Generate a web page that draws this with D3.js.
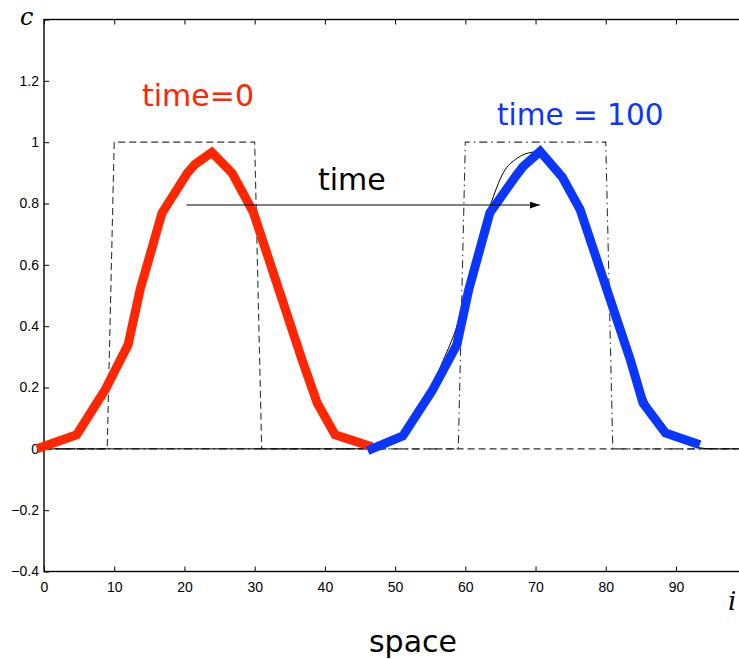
<!DOCTYPE html>
<html>
<head>
<meta charset="utf-8">
<script src="https://cdn.jsdelivr.net/npm/d3@7"></script>
<style>
  body { margin: 0; background: #fff; }
  svg { display: block; }
</style>
</head>
<body>
<div id="chart"></div>
<script>
// numerical solution at time = 0 (red)
const redX = [-1, 4.66, 8.69, 11.97, 13.7, 16.8, 20.4, 21.5, 23.9, 26.8, 29.8, 36.75, 38.9, 41.45, 46.7];
const redY = [0, 0.046, 0.192, 0.339, 0.52, 0.769, 0.899, 0.928, 0.967, 0.899, 0.772, 0.29, 0.15, 0.046, 0.007];

// numerical solution at time = 100 (blue)
const blueX = [46.1, 51.1, 55.3, 58.8, 60.5, 63.5, 67.2, 68.2, 70.65, 73.8, 76.35, 83.5, 85.3, 88.5, 93.4];
const blueY = [-0.006, 0.042, 0.19, 0.34, 0.52, 0.77, 0.89, 0.92, 0.97, 0.886, 0.78, 0.29, 0.15, 0.052, 0.013];

// exact solution (thin black)
const exactX = [0, 44, 48, 51, 54, 56.7, 59.3, 60.4, 62, 63.5, 65.4, 67.4, 69.7, 70.8, 72.5, 75, 77, 80, 83, 86, 89, 92, 95, 100];
const exactY = [0, 0, 0.01, 0.04, 0.14, 0.28, 0.44, 0.55, 0.68, 0.79, 0.9, 0.948, 0.968, 0.97, 0.935, 0.85, 0.75, 0.55, 0.33, 0.15, 0.05, 0.012, 0, 0];

// initial square pulse (dashed) and shifted pulse (dash-dot)
const squareX = [0, 9, 10, 30, 31, 100];
const squareY = [0, 0, 1, 1, 0, 0];
const square2X = [0, 59, 60, 80, 81, 100];
const square2Y = [0, 0, 1, 1, 0, 0];

const xTicks = [0, 10, 20, 30, 40, 50, 60, 70, 80, 90, 100];
const yTicks = [-0.4, -0.2, 0, 0.2, 0.4, 0.6, 0.8, 1, 1.2, 1.4];
const yLabelled = [-0.4, -0.2, 0, 0.2, 0.4, 0.6, 0.8, 1, 1.2];

const arrowX = [20.3, 70.6];
const arrowY = 0.8;

const width = 739, height = 659;
const margin = { top: 19.5, left: 44, right: 739 - 746.2, bottom: 659 - 571.5 };

const svg = d3.select("#chart").append("svg")
  .attr("width", width)
  .attr("height", height);

const x = d3.scaleLinear().domain([0, 100]).range([margin.left, width - margin.right]);
const y = d3.scaleLinear().domain([-0.4, 1.4]).range([height - margin.bottom, margin.top]);

const tickFont = "'Liberation Sans', Arial, sans-serif";

// bottom axis with inward ticks
const gx = svg.append("g")
  .attr("transform", `translate(0,${y(-0.4)})`)
  .call(d3.axisBottom(x).tickValues(xTicks).tickSizeInner(-5).tickSizeOuter(0).tickPadding(10.5)
    .tickFormat(d => d === 100 ? "" : d));
gx.select(".domain").remove();

// top ticks, no labels
const gt = svg.append("g")
  .attr("transform", `translate(0,${y(1.4)})`)
  .call(d3.axisTop(x).tickValues(xTicks).tickSizeInner(-5).tickSizeOuter(0).tickFormat(""));
gt.select(".domain").remove();

// left axis
const gy = svg.append("g")
  .attr("transform", `translate(${x(0)},0)`)
  .call(d3.axisLeft(y).tickValues(yTicks).tickSizeInner(-5).tickSizeOuter(0).tickPadding(5)
    .tickFormat(d => yLabelled.includes(d) ? d3.format("~g")(d) : ""));
gy.select(".domain").remove();

svg.selectAll(".tick text")
  .attr("font-family", tickFont)
  .attr("font-size", 14)
  .attr("fill", "#000");
svg.selectAll(".tick line").attr("stroke", "#000").attr("stroke-width", 1);

// frame
svg.append("rect")
  .attr("x", x(0))
  .attr("y", y(1.4))
  .attr("width", x(100) - x(0))
  .attr("height", y(-0.4) - y(1.4))
  .attr("fill", "none")
  .attr("stroke", "#000")
  .attr("stroke-width", 1.4);

const line = d3.line().x(d => x(d[0])).y(d => y(d[1]));
const zip = (a, b) => a.map((v, i) => [v, b[i]]);

svg.append("path")
  .datum(zip(squareX, squareY))
  .attr("fill", "none")
  .attr("stroke", "#333")
  .attr("stroke-width", 1.1)
  .attr("stroke-dasharray", "7,4")
  .attr("d", line);

svg.append("path")
  .datum(zip(square2X, square2Y))
  .attr("fill", "none")
  .attr("stroke", "#333")
  .attr("stroke-width", 1.1)
  .attr("stroke-dasharray", "8,4,1.5,4")
  .attr("d", line);

svg.append("path")
  .datum(zip(exactX, exactY))
  .attr("fill", "none")
  .attr("stroke", "#000")
  .attr("stroke-width", 1)
  .attr("d", line.curve(d3.curveMonotoneX));
line.curve(d3.curveLinear);

svg.append("path")
  .datum(zip(redX, redY))
  .attr("fill", "none")
  .attr("stroke", "#ff2600")
  .attr("stroke-width", 9)
  .attr("stroke-linejoin", "miter")
  .attr("d", line);

svg.append("path")
  .datum(zip(blueX, blueY))
  .attr("fill", "none")
  .attr("stroke", "#0a36ff")
  .attr("stroke-width", 9)
  .attr("stroke-linejoin", "miter")
  .attr("d", line);

// arrow
svg.append("defs").append("marker")
  .attr("id", "head")
  .attr("viewBox", "0 0 10 7")
  .attr("refX", 10).attr("refY", 3.5)
  .attr("markerWidth", 10).attr("markerHeight", 7)
  .attr("markerUnits", "userSpaceOnUse")
  .attr("orient", "auto")
  .append("path").attr("d", "M0,0L10,3.5L0,7Z").attr("fill", "#000");

svg.append("line")
  .attr("x1", x(arrowX[0])).attr("y1", y(arrowY) + 1.5)
  .attr("x2", x(arrowX[1])).attr("y2", y(arrowY) + 1.5)
  .attr("stroke", "#000")
  .attr("stroke-width", 1)
  .attr("marker-end", "url(#head)");

// annotations
const labelFont = "'DejaVu Sans', Verdana, sans-serif";
svg.append("text").attr("x", 142).attr("y", 106)
  .attr("font-family", labelFont).attr("font-size", 30).attr("fill", "#ff2600")
  .text("time=0");
svg.append("text").attr("x", 497).attr("y", 125)
  .attr("font-family", labelFont).attr("font-size", 29.5).attr("fill", "#0a36ff")
  .text("time = 100");
svg.append("text").attr("x", 318).attr("y", 190)
  .attr("font-family", labelFont).attr("font-size", 30).attr("fill", "#000")
  .text("time");
svg.append("text").attr("x", 413).attr("y", 652)
  .attr("text-anchor", "middle")
  .attr("font-family", labelFont).attr("font-size", 30).attr("fill", "#000")
  .text("space");

// axis symbols
svg.append("text").attr("x", 20).attr("y", 25)
  .attr("font-family", "'DejaVu Serif', 'Liberation Serif', serif")
  .attr("font-style", "italic").attr("font-size", 24)
  .text("c");
svg.append("text").attr("x", 728).attr("y", 610)
  .attr("font-family", "'DejaVu Serif', 'Liberation Serif', serif")
  .attr("font-style", "italic").attr("font-size", 26)
  .text("i");
</script>
</body>
</html>
